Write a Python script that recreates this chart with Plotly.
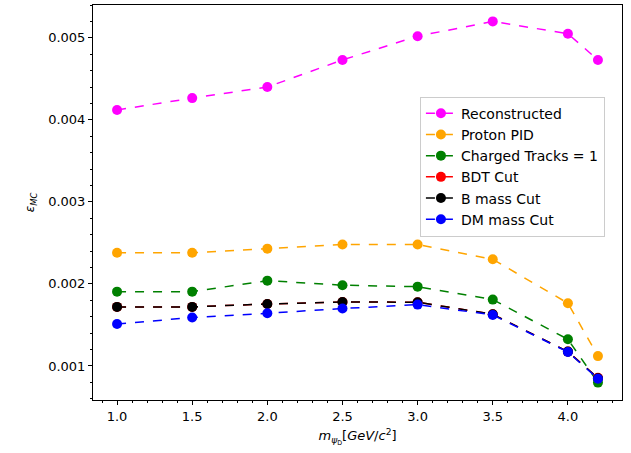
import plotly.graph_objects as go

masses = [1.0, 1.5, 2.0, 2.5, 3.0, 3.5, 4.0, 4.2]
reconstructed = [0.00412, 0.004265, 0.00440, 0.00473, 0.00502, 0.00520, 0.00505, 0.00473]
proton_pid = [0.00238, 0.00238, 0.00243, 0.00248, 0.00248, 0.00230, 0.001765, 0.00112]
charged_tracks = [0.001906, 0.001906, 0.00204, 0.001984, 0.001967, 0.001809, 0.001325, 0.000797]
bdt_cut = [0.00172, 0.00172, 0.001756, 0.00178, 0.001777, 0.00163, 0.001175, 0.000855]
b_mass_cut = [0.00172, 0.00172, 0.001756, 0.00178, 0.001777, 0.00163, 0.001175, 0.00085]
dm_mass_cut = [0.001512, 0.00159, 0.001642, 0.00170, 0.001748, 0.001622, 0.00117, 0.000845]

series = [
    ("Reconstructed", reconstructed, "#ff00ff"),
    ("Proton PID", proton_pid, "#ffa500"),
    ("Charged Tracks = 1", charged_tracks, "#008000"),
    ("BDT Cut", bdt_cut, "#ff0000"),
    ("B mass Cut", b_mass_cut, "#000000"),
    ("DM mass Cut", dm_mass_cut, "#0000ff"),
]

fig = go.Figure()
for name, vals, col in series:
    fig.add_trace(go.Scatter(
        x=masses, y=vals, name=name, mode="lines+markers",
        line=dict(color=col, width=1.5, dash="dash"),
        marker=dict(color=col, size=10),
    ))

font = "DejaVu Sans"
axis_common = dict(
    showline=True, linecolor="black", linewidth=1, mirror=True,
    ticks="outside", ticklen=4, tickcolor="black", showgrid=False, zeroline=False,
    tickfont=dict(family=font, size=13, color="black"),
)
fig.update_xaxes(
    range=[0.84, 4.36], tickvals=[1.0, 1.5, 2.0, 2.5, 3.0, 3.5, 4.0],
    ticktext=["1.0", "1.5", "2.0", "2.5", "3.0", "3.5", "4.0"],
    minor=dict(ticks="outside", ticklen=2, tickcolor="black", dtick=0.1, tick0=0),
    title=dict(text="<i>m</i><sub><i>ψ</i><sub>D</sub></sub>[<i>GeV</i>/<i>c</i><sup>2</sup>]",
               font=dict(family=font, size=13, color="black"), standoff=8),
    **axis_common,
)
fig.update_yaxes(
    range=[0.000585, 0.0054], tickvals=[0.001, 0.002, 0.003, 0.004, 0.005],
    ticktext=["0.001", "0.002", "0.003", "0.004", "0.005"],
    minor=dict(ticks="outside", ticklen=2, tickcolor="black", dtick=0.0002, tick0=0),
    title=dict(text="<i>ε</i><sub><i>MC</i></sub>",
               font=dict(family=font, size=12, color="black"), standoff=10),
    **axis_common,
)
fig.update_layout(
    width=631, height=453,
    margin=dict(l=93, r=9, t=5, b=53),
    paper_bgcolor="white", plot_bgcolor="white",
    font=dict(family=font, size=13, color="black"),
    legend=dict(
        x=0.618, y=0.768, xanchor="left", yanchor="top",
        bgcolor="rgba(255,255,255,0.8)", bordercolor="#cccccc", borderwidth=1,
        font=dict(family=font, size=14, color="black"),
        itemwidth=30,
    ),
)
fig.write_html("out.html")
